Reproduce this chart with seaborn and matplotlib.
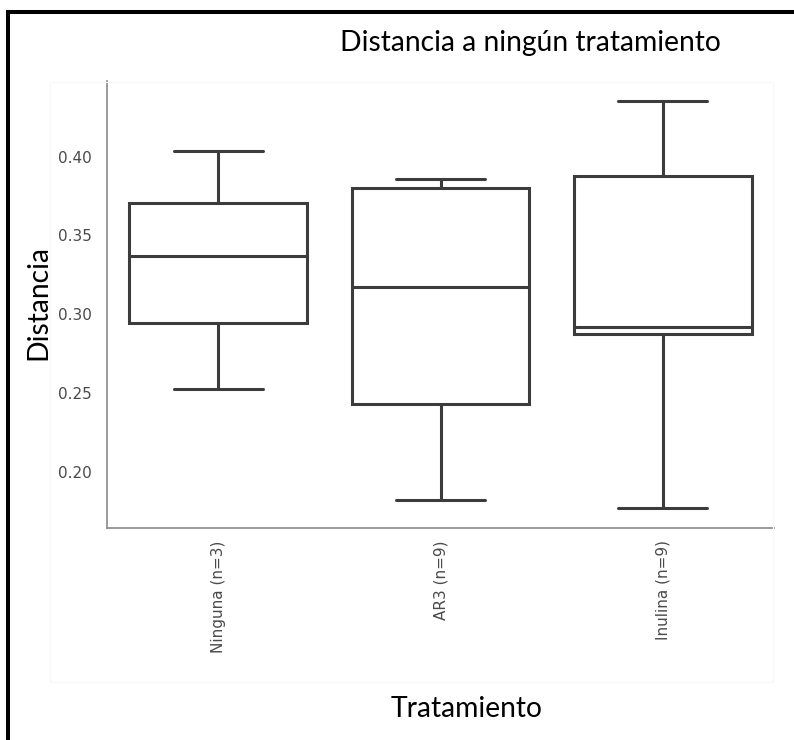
import numpy as np
import pandas as pd
import matplotlib
matplotlib.use("Agg")
import matplotlib.pyplot as plt
from matplotlib.patches import Rectangle
import seaborn as sns

# ---- data ----
categories = ["Ninguna (n=3)", "AR3 (n=9)", "Inulina (n=9)"]
ninguna = [0.2524, 0.3369, 0.4038]
ar3 = [0.1817, 0.2150, 0.2429, 0.2900, 0.3175, 0.3500, 0.3800, 0.3830, 0.3855]
inulina = [0.1771, 0.2400, 0.2875, 0.2890, 0.2917, 0.3300, 0.3880, 0.4100, 0.4351]
yticks = [0.20, 0.25, 0.30, 0.35, 0.40]
title = "Distancia a ningún tratamiento"
xlabel = "Tratamiento"
ylabel = "Distancia"

df = pd.DataFrame({
    "Tratamiento": [categories[0]] * len(ninguna) + [categories[1]] * len(ar3) + [categories[2]] * len(inulina),
    "Distancia": ninguna + ar3 + inulina,
})

sns.set_style("white")
plt.rcParams["font.family"] = ["DejaVu Sans"]
plt.rcParams["font.sans-serif"] = ["DejaVu Sans"]

W, H = 794, 740
fig = plt.figure(figsize=(W / 100, H / 100), dpi=100)
ax = fig.add_axes([107 / W, 1 - 528 / H, (774 - 107) / W, (528 - 81) / H])

sns.boxplot(data=df, x="Tratamiento", y="Distancia", order=categories, ax=ax,
            color="white", linecolor="#3c3c3c", linewidth=2.2, width=0.8)

ax.set_xlabel("")
ax.set_ylabel("")
ax.set_yticks(yticks)
ax.set_yticklabels([f"{t:.2f}" for t in yticks])
ax.tick_params(axis="y", length=0, pad=11, labelcolor="#4a4a4a")
ax.tick_params(axis="x", length=0, pad=9, labelcolor="#4a4a4a", labelrotation=90)
for lab in ax.get_xticklabels() + ax.get_yticklabels():
    lab.set_fontfamily("DejaVu Sans")
    lab.set_fontsize(11)
for s in ["top", "right"]:
    ax.spines[s].set_visible(False)
for s in ["left", "bottom"]:
    ax.spines[s].set_color("#8a8a8a")
    ax.spines[s].set_linewidth(1.2)

# faint border of the pasted plot image
fig.patches.append(Rectangle((50 / W, 1 - 682 / H), (773 - 50) / W, (682 - 82) / H,
                             transform=fig.transFigure, fill=False,
                             edgecolor="#f7f7f7", linewidth=0.8, zorder=0))
# black frame (top and left visible)
fig.patches.append(Rectangle((8 / W, -0.1), 1.2, 1 - 12 / H + 0.1,
                             transform=fig.transFigure, fill=False,
                             edgecolor="black", linewidth=2.9, zorder=10))

tfont = ["Lato", "DejaVu Sans"]
fig.text(530 / W, 1 - 43 / H, title, ha="center", va="center",
         fontsize=20.3, family=tfont, color="black")
fig.text(38 / W, 1 - 302 / H, ylabel, ha="center", va="center", rotation=90,
         fontsize=20.3, family=tfont, color="black")
fig.text(467 / W, 1 - 709 / H, xlabel, ha="center", va="center",
         fontsize=20.3, family=tfont, color="black")

fig.savefig("out.png", dpi=100)
